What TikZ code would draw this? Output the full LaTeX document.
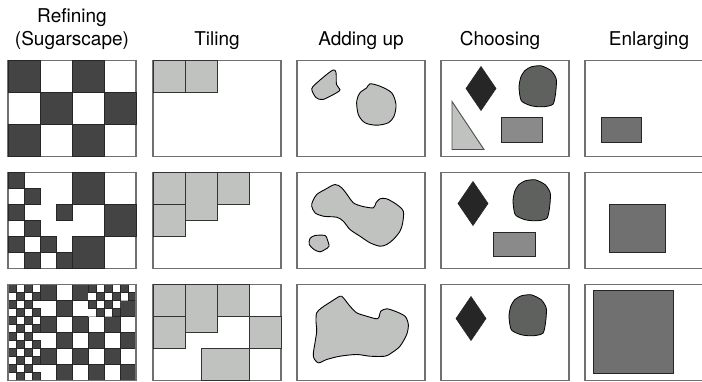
\documentclass[tikz,border=0pt]{standalone}
\usepackage{fontspec}
\setmainfont{TeX Gyre Heros}
\usetikzlibrary{positioning}
\definecolor{panelgray}{HTML}{707070}
\definecolor{cellgray}{HTML}{444444}
\definecolor{tilegray}{HTML}{C0C2C0}
\definecolor{kitegray}{HTML}{262626}
\definecolor{blobgray}{HTML}{5F615F}
\definecolor{rectgray}{HTML}{8A8A8A}
\definecolor{growgray}{HTML}{707070}
\tikzset{
  title/.style    ={font=\fontsize{19}{23}\selectfont,align=center,inner sep=0pt},
  panel/.style    ={rectangle,draw=panelgray,fill=white,line width=1.1pt,
                    minimum width=128pt,minimum height=96pt,inner sep=0pt,
                    outer sep=0pt,anchor=north west},
  darkcell/.style ={draw=black!85,fill=cellgray,line width=0.8pt},
  smallcell/.style={draw=black!85,fill=cellgray,line width=0.6pt},
  tilebox/.style  ={draw=black!80,fill=tilegray,line width=0.9pt},
  lump/.style     ={draw=black,fill=tilegray,line width=0.9pt},
  kite/.style     ={draw=kitegray,fill=kitegray,line width=0.6pt},
  greyblob/.style ={draw=black,fill=blobgray,line width=0.8pt},
  greyrect/.style ={draw=black!85,fill=rectgray,line width=0.9pt},
  wedge/.style    ={draw=black!70,fill=tilegray,line width=0.9pt},
  growbox/.style  ={draw=black!85,fill=growgray,line width=1pt}
}
\newcommand{\choiceblob}[1]{\draw[greyblob,shift={#1}] plot[smooth cycle,tension=0.4]
  coordinates {(-13.3,-15.7) (-6.7,-19.7) (3.3,-20.7) (13.3,-15.7) (18.3,-7.3) (17.7,6)
  (15,17.7) (5,20.3) (-6.7,19.3) (-16.7,14.3) (-19,1) (-17.3,-9)};}
\newcommand{\kiteshape}[1]{\draw[kite,shift={#1}] (0,-22) -- (15,0) -- (0,22) -- (-15,0) -- cycle;}

\begin{document}
\begin{tikzpicture}[x=1pt,y=-1pt]
  \useasboundingbox (0,0) rectangle (702,381);
  \clip (0,0) rectangle (702,381);

  % panels
  \foreach \name/\xx in {refine/8,tile/153,add/297,choose/441,enlarge/585}
    \foreach \row/\yy in {1/60.5,2/172.5,3/284.5}
      \node[panel] (\name\row) at (\xx,\yy) {};

  % column titles
  \node[title, above=11pt of refine1] (refinetitle) {Refining\\(Sugarscape)};
  \node[title, above=11pt of tile1] (tiletitle) {Tiling};
  \node[title, above=11pt of add1] (addtitle) {Adding up};
  \node[title, above=11pt of choose1, xshift=-5pt] (choosetitle) {Choosing};
  \node[title, above=11pt of enlarge1] (enlargetitle) {Enlarging};

  % refining
  \begin{scope}[shift={(refine1.north west)}]
    \foreach \c/\r in {0/0,2/0,1/1,3/1,0/2,2/2}
      \draw[darkcell] (32*\c,32*\r) rectangle ++(32,32);
  \end{scope}
  \begin{scope}[shift={(refine2.north west)}]
    \foreach \c/\r in {2/0,3/1,2/2}
      \draw[darkcell] (32*\c,32*\r) rectangle ++(32,32);
    \foreach \c/\r in {0/0,1/1,0/2,3/2,1/3,0/4,2/4,1/5,3/5}
      \draw[darkcell] (16*\c,16*\r) rectangle ++(16,16);
  \end{scope}
  \begin{scope}[shift={(refine3.north west)}]
    \foreach \c in {2,...,7}
      \foreach \r in {0,...,5}{
        \pgfmathtruncatemacro\odd{mod(\c+\r,2)}
        \ifnum\odd=0 \draw[darkcell] (16*\c,16*\r) rectangle ++(16,16); \fi
      }
    \fill[white] (80,0) rectangle (128,16) (80,16) rectangle (112,32);
    \foreach \i in {0,...,3}
      \foreach \j in {0,...,11}{
        \pgfmathtruncatemacro\odd{mod(\i+\j,2)}
        \ifnum\odd=0 \draw[smallcell] (8*\i,8*\j) rectangle ++(8,8); \fi
      }
    \foreach \i in {0,...,5}
      \foreach \j in {0,1}{
        \pgfmathtruncatemacro\odd{mod(\i+\j,2)}
        \ifnum\odd=0 \draw[smallcell] (80+8*\i,8*\j) rectangle ++(8,8); \fi
      }
    \foreach \i in {0,...,3}
      \foreach \j in {2,3}{
        \pgfmathtruncatemacro\odd{mod(\i+\j,2)}
        \ifnum\odd=0 \draw[smallcell] (80+8*\i,8*\j) rectangle ++(8,8); \fi
      }
    \draw[panelgray, line width=1.1pt] (0,0) rectangle (128,96);
  \end{scope}

  % tiling
  \begin{scope}[shift={(tile1.north west)}]
    \draw[tilebox] (0,0) rectangle (32,32);
    \draw[tilebox] (32,0) rectangle (64,32);
  \end{scope}
  \foreach \t in {tile2,tile3}{
    \begin{scope}[shift={(\t.north west)}]
      \draw[tilebox] (0,0) rectangle (32,32);
      \draw[tilebox] (0,32) rectangle (32,64);
      \draw[tilebox] (32,0) rectangle (64,48);
      \draw[tilebox] (64,0) rectangle (96,32);
    \end{scope}
  }
  \begin{scope}[shift={(tile3.north west)}]
    \draw[tilebox] (96,32) rectangle (128,64);
    \draw[tilebox] (48,64) rectangle (96,96);
  \end{scope}

  % adding up
  \begin{scope}[shift={(add1.north west)}]
    \draw[lump] plot[smooth cycle,tension=0.5] coordinates {(16,26) (26,17) (36,9.5)
      (39,12) (39.5,24) (43,29) (40,32) (26,39) (19,37) (15,30)};
    \draw[lump] plot[smooth cycle,tension=0.5] coordinates {(73,23.3) (83,25.7)
      (94.7,32.3) (99,44) (97,55.7) (91.3,62.3) (79.7,64.7) (68,62.3) (61.3,54)
      (59.7,40.7) (63,32.3) (69.7,27.3)};
  \end{scope}
  \begin{scope}[shift={(add2.north west)}]
    \draw[lump] plot[smooth cycle,tension=0.5] coordinates {(15.7,28.7) (19.7,22)
      (28,17) (38,12) (44.7,15.3) (51.3,23.7) (56.3,30.3) (64.7,33.7) (76.3,35.3)
      (79,30.3) (83,26.3) (89.7,26.3) (99.7,32) (106.3,38.7) (105.7,50.3) (103,58.7)
      (96.3,67) (89.7,72) (83,73.7) (73,70.3) (63,63.7) (53,57) (46.3,48.7)
      (39.7,44.7) (26.3,43.7) (18,40.3) (14.7,33.7)};
    \draw[lump] plot[smooth cycle,tension=0.5] coordinates {(13,66) (18,63) (28,63)
      (30.3,67) (32,73.7) (28,77) (23,79.3) (17,77) (12.3,72)};
  \end{scope}
  \begin{scope}[shift={(add3.north west)}]
    \draw[lump] plot[smooth cycle,tension=0.5] coordinates {(19.7,28.3) (24.7,23.3)
      (34.7,16.7) (43,11.7) (46.3,13.3) (53,21.7) (59.7,28.3) (69.7,31.7) (79.7,34.3)
      (82.3,31.7) (83.7,26.7) (89.7,24.3) (98,26.7) (108,31.7) (111.3,40) (109.7,50)
      (103,61.7) (94.7,68.3) (88,71.7) (73,71.7) (59.7,70) (43,71.7) (29.7,75)
      (21.3,78.3) (16.3,71.7) (18,58.3) (19.7,46.7) (19,36.7)};
  \end{scope}

  % choosing
  \begin{scope}[shift={(choose1.north west)}]
    \kiteshape{(40,28)}
    \choiceblob{(97,26)}
    \draw[wedge] (11,41) -- (11,89) -- (43,89) -- cycle;
    \draw[greyrect] (60,57) rectangle (101,82);
  \end{scope}
  \begin{scope}[shift={(choose2.north west)}]
    \kiteshape{(32,31)}
    \choiceblob{(91,28)}
    \draw[greyrect] (52,60) rectangle (94,84);
  \end{scope}
  \begin{scope}[shift={(choose3.north west)}]
    \kiteshape{(30,34)}
    \choiceblob{(87,31)}
  \end{scope}

  % enlarging
  \draw[growbox] ([shift={(16,57)}]enlarge1.north west) rectangle ([shift={(56,82)}]enlarge1.north west);
  \draw[growbox] ([shift={(24,32)}]enlarge2.north west) rectangle ([shift={(80,80)}]enlarge2.north west);
  \draw[growbox] ([shift={(8,6)}]enlarge3.north west) rectangle ([shift={(88,89)}]enlarge3.north west);
\end{tikzpicture}
\end{document}
